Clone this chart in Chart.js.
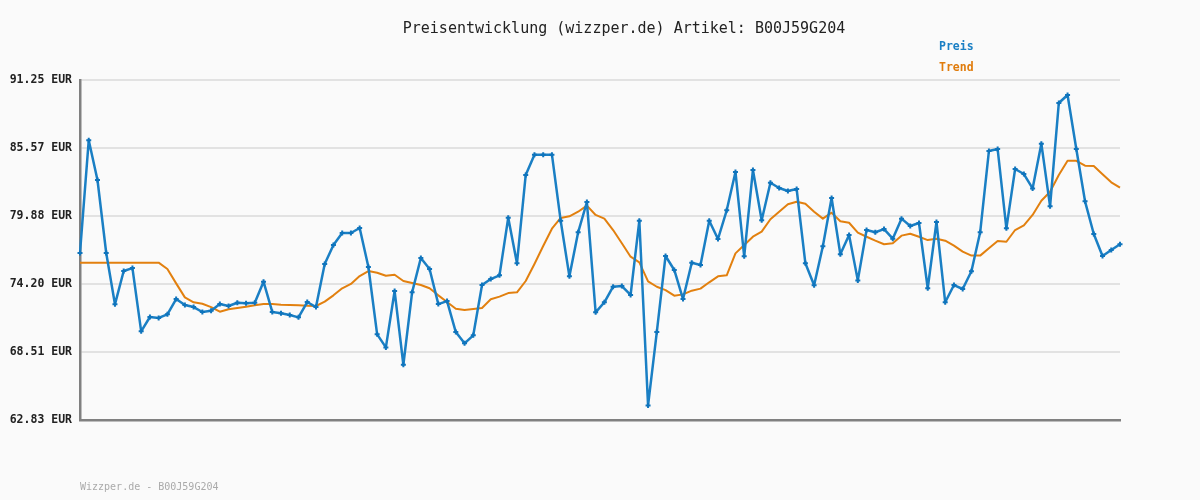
<!DOCTYPE html>
<html>
<head>
<meta charset="utf-8">
<script src="https://cdn.jsdelivr.net/npm/chart.js@4/dist/chart.umd.min.js"></script>
<style>
  html, body { margin: 0; padding: 0; background: #fafafa; }
  #wrap { position: relative; width: 1200px; height: 500px; }
  canvas { position: absolute; left: 0; top: 0; }
  .t { position: absolute; font-family: "DejaVu Sans Mono", "Liberation Mono", monospace; white-space: nowrap; }
  #title { left: 0; width: 1248px; top: 19px; text-align: center; font-size: 15px; color: #222; }
  #lg1 { left: 939px; top: 39px; font-size: 11.5px; font-weight: bold; color: #1a7fc4; }
  #lg2 { left: 939px; top: 60px; font-size: 11.5px; font-weight: bold; color: #e07c0c; }
  #foot { left: 80px; top: 481px; font-size: 10px; color: #aaaaaa; }
</style>
</head>
<body>
<div id="wrap">
  <canvas id="c" width="1200" height="500"></canvas>
  <div class="t" id="title">Preisentwicklung (wizzper.de) Artikel: B00J59G204</div>
  <div class="t" id="lg1">Preis</div>
  <div class="t" id="lg2">Trend</div>
  <div class="t" id="foot">Wizzper.de - B00J59G204</div>
</div>
<script>
const yTicks = [62.83, 68.51, 74.20, 79.88, 85.57, 91.25];

const preis = [
  76.79, 86.21, 82.89, 76.79, 72.50, 75.28, 75.53, 70.24, 71.44, 71.36,
  71.66, 72.94, 72.44, 72.27, 71.86, 71.97, 72.52, 72.36, 72.63, 72.58,
  72.63, 74.39, 71.86, 71.75, 71.61, 71.41, 72.69, 72.27, 75.87, 77.46,
  78.46, 78.46, 78.88, 75.62, 69.99, 68.90, 73.61, 67.45, 73.50, 76.37,
  75.45, 72.52, 72.77, 70.18, 69.24, 69.91, 74.11, 74.61, 74.92, 79.74,
  75.93, 83.31, 85.01, 85.01, 85.01, 79.49, 74.84, 78.52, 81.05, 71.83,
  72.67, 73.97, 74.03, 73.28, 79.49, 64.05, 70.18, 76.54, 75.37, 72.94,
  75.98, 75.78, 79.49, 77.96, 80.36, 83.56, 76.51, 83.73, 79.52, 82.66,
  82.22, 81.97, 82.14, 75.93, 74.09, 77.35, 81.39, 76.68, 78.29, 74.50,
  78.71, 78.52, 78.79, 77.99, 79.66, 79.05, 79.30, 73.84, 79.38, 72.67,
  74.11, 73.78, 75.26, 78.52, 85.31, 85.48, 78.85, 83.81, 83.39, 82.19,
  85.93, 80.69, 89.33, 90.00, 85.48, 81.11, 78.38, 76.54, 77.04, 77.52
];

const trend = [
  75.98, 75.98, 75.98, 75.98, 75.98, 75.98, 75.98, 75.98, 75.98, 75.98,
  75.45, 74.25, 73.08, 72.67, 72.55, 72.27, 71.88, 72.08, 72.19, 72.30,
  72.42, 72.52, 72.52, 72.47, 72.44, 72.42, 72.38, 72.36, 72.72, 73.25,
  73.84, 74.20, 74.86, 75.28, 75.14, 74.89, 74.97, 74.45, 74.28, 74.11,
  73.84, 73.25, 72.69, 72.13, 72.02, 72.11, 72.19, 72.92, 73.14, 73.44,
  73.50, 74.45, 75.87, 77.37, 78.82, 79.72, 79.86, 80.24, 80.75, 79.97,
  79.66, 78.71, 77.60, 76.48, 76.01, 74.42, 73.97, 73.69, 73.22, 73.33,
  73.64, 73.81, 74.34, 74.84, 74.92, 76.76, 77.46, 78.15, 78.57, 79.61,
  80.24, 80.86, 81.08, 80.91, 80.24, 79.66, 80.16, 79.44, 79.32, 78.49,
  78.15, 77.82, 77.52, 77.60, 78.24, 78.40, 78.15, 77.87, 77.98, 77.82,
  77.40, 76.90, 76.57, 76.57, 77.18, 77.79, 77.73, 78.71, 79.10, 79.97,
  81.16, 81.91, 83.31, 84.50, 84.50, 84.09, 84.06, 83.37, 82.70, 82.25
];

const categories = preis.map((_, i) => String(i + 1));

new Chart(document.getElementById('c'), {
  type: 'line',
  data: {
    labels: categories,
    datasets: [
      {
        label: 'Preis',
        data: preis,
        borderColor: '#1a7fc4',
        backgroundColor: '#1a7fc4',
        borderWidth: 2.5,
        borderJoinStyle: 'round',
        pointRadius: 0,
        tension: 0,
        order: 1
      },
      {
        label: 'Trend',
        data: trend,
        borderColor: '#e2800f',
        backgroundColor: '#e2800f',
        borderWidth: 2,
        borderJoinStyle: 'round',
        pointRadius: 0,
        tension: 0,
        order: 2
      },
      {
        label: 'PreisMarks',
        data: preis,
        showLine: false,
        borderColor: '#0f74bc',
        backgroundColor: '#0f74bc',
        pointStyle: 'cross',
        pointRadius: 2.5,
        pointBorderWidth: 2,
        order: 0
      }
    ]
  },
  options: {
    responsive: false,
    animation: false,
    layout: { padding: { left: 0, right: 80, top: 80, bottom: 80 } },
    plugins: {
      legend: { display: false },
      title: { display: false },
      tooltip: { enabled: false }
    },
    scales: {
      x: {
        display: true,
        ticks: { display: false },
        grid: { display: false, drawTicks: false },
        border: { display: true, color: '#808080', width: 2.5 },
        afterFit: (s) => { s.height = 0; }
      },
      y: {
        min: 62.83,
        max: 91.25,
        afterBuildTicks: (s) => { s.ticks = yTicks.map(v => ({ value: v })); },
        afterFit: (s) => { s.width = 80; },
        ticks: {
          padding: 8,
          color: '#222',
          font: { family: '"DejaVu Sans Mono", monospace', size: 11.5, weight: 'bold' },
          callback: (v) => Number(v).toFixed(2) + ' EUR'
        },
        grid: { color: '#e2e2e2', lineWidth: 2, drawTicks: false },
        border: { display: true, color: '#808080', width: 2.5 }
      }
    }
  }
});
</script>
</body>
</html>
